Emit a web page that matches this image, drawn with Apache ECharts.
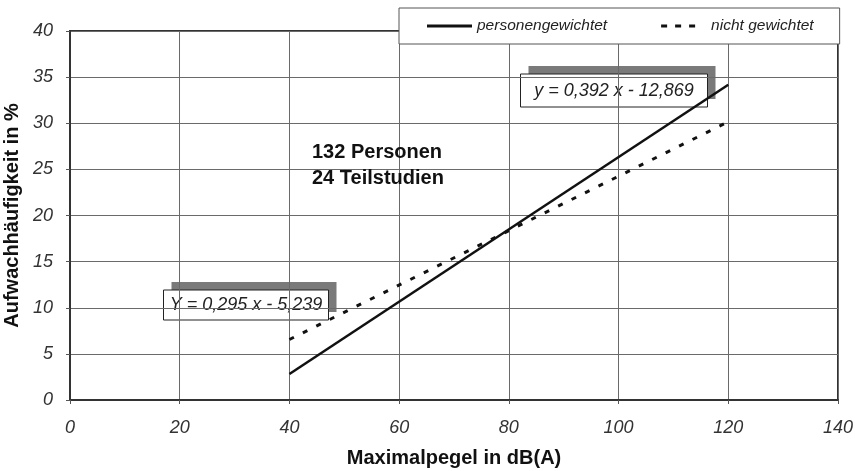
<!DOCTYPE html>
<html>
<head>
<meta charset="utf-8">
<script src="https://cdn.jsdelivr.net/npm/echarts@6/dist/echarts.min.js"></script>
<style>
  html, body { margin: 0; padding: 0; background: #fff; }
  #chart { width: 855px; height: 471px; }
</style>
</head>
<body>
<div id="chart"></div>
<script>
// Regression lines: awakening frequency vs. maximum level
const levels = [40, 120];                    // dB(A), ends of each fitted line
const weighted = [2.81, 34.17];              // personengewichtet
const unweighted = [6.56, 30.16];            // nicht gewichtet
const seriesNames = ['personengewichtet', 'nicht gewichtet'];
const eqWeighted = 'y = 0,392 x - 12,869';
const eqUnweighted = 'Y = 0,295 x - 5,239';
const infoLines = ['132 Personen', '24 Teilstudien'];

const FONT = '"Liberation Sans", Arial, Helvetica, sans-serif';

const chart = echarts.init(document.getElementById('chart'), null, { renderer: 'canvas' });

// framed equation label with a grey drop block behind it
function eqBox(x, y, w, h, text) {
  return {
    type: 'group',
    left: x, top: y - 8,
    z: 100,
    children: [
      { type: 'rect', shape: { x: 8, y: 0, width: w, height: h }, style: { fill: '#7a7a7a' } },
      { type: 'rect', shape: { x: 0, y: 8, width: w, height: h }, style: { fill: '#fff', stroke: '#222', lineWidth: 1 } },
      { type: 'text', x: w / 2, y: 8 + h / 2,
        style: { text: text, fill: '#222', font: 'italic 18px ' + FONT, align: 'center', verticalAlign: 'middle' } }
    ]
  };
}

chart.setOption({
  animation: false,
  backgroundColor: '#fff',
  grid: {
    left: 70, right: 17, top: 31, bottom: 71,
    outerBoundsMode: 'none', containLabel: false,
    show: true, borderColor: '#333', borderWidth: 2, backgroundColor: 'transparent'
  },
  legend: {
    left: 399, top: 8,
    padding: [10, 26, 10, 28],
    itemGap: 54,
    itemWidth: 45, itemHeight: 3,
    backgroundColor: '#fff', borderColor: '#555', borderWidth: 1,
    textStyle: { fontFamily: FONT, fontStyle: 'italic', fontSize: 15.5, color: '#222' },
    data: [
      { name: seriesNames[0], icon: 'path://M0,0H45V3H0Z' },
      { name: seriesNames[1], icon: 'path://M0,0H6V3H0Z M14,0H20V3H14Z M28,0H34V3H28Z M45,3' }
    ]
  },
  xAxis: {
    type: 'value', min: 0, max: 140, interval: 20,
    name: 'Maximalpegel in dB(A)', nameLocation: 'middle', nameGap: 48,
    nameTextStyle: { fontFamily: FONT, fontWeight: 'bold', fontSize: 20, color: '#111' },
    axisLine: { show: true, lineStyle: { color: '#333', width: 2 } },
    axisTick: { show: true, length: 4, lineStyle: { color: '#555' } },
    axisLabel: { margin: 19, fontFamily: FONT, fontStyle: 'italic', fontSize: 18, color: '#333' },
    splitLine: { show: true, lineStyle: { color: '#6a6a6a', width: 1 } }
  },
  yAxis: {
    type: 'value', min: 0, max: 40, interval: 5,
    name: 'Aufwachhäufigkeit in %', nameLocation: 'middle', nameGap: 42,
    nameTextStyle: { fontFamily: FONT, fontWeight: 'bold', fontSize: 20, color: '#111' },
    axisLine: { show: true, lineStyle: { color: '#333', width: 2 } },
    axisTick: { show: true, length: 4, lineStyle: { color: '#555' } },
    axisLabel: { margin: 17, fontFamily: FONT, fontStyle: 'italic', fontSize: 18, color: '#333' },
    splitLine: { show: true, lineStyle: { color: '#6a6a6a', width: 1 } }
  },
  series: [
    {
      name: seriesNames[0], type: 'line', symbol: 'none',
      data: levels.map((x, i) => [x, weighted[i]]),
      lineStyle: { color: '#111', width: 2.5, type: 'solid' },
      itemStyle: { color: '#111' }, z: 3
    },
    {
      name: seriesNames[1], type: 'line', symbol: 'none',
      data: levels.map((x, i) => [x, unweighted[i]]),
      lineStyle: { color: '#111', width: 3, type: [5, 10] },
      itemStyle: { color: '#111' }, z: 3
    }
  ],
  graphic: [
    {
      type: 'text', left: 312, top: 139, z: 100,
      style: { text: infoLines.join('\n'), font: 'bold 20px ' + FONT, fill: '#111', lineHeight: 26 }
    },
    eqBox(520, 74, 187, 33, eqWeighted),
    eqBox(163, 290, 165, 30, eqUnweighted)
  ]
});
</script>
</body>
</html>
